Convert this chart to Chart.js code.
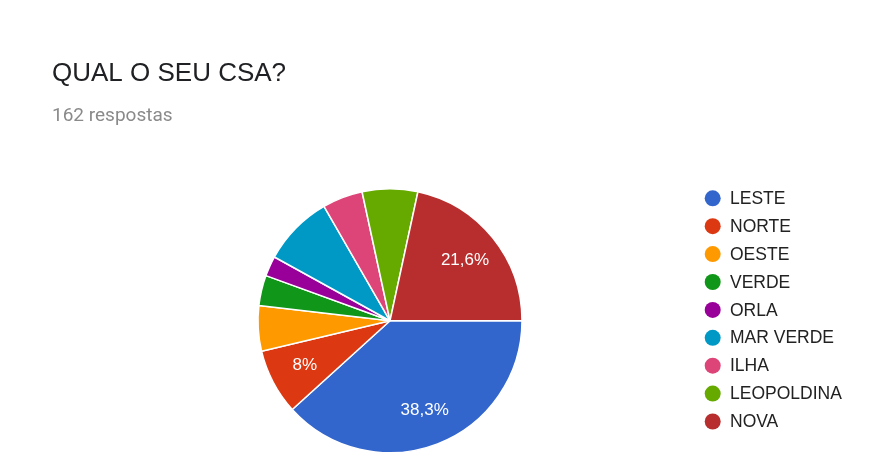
<!DOCTYPE html>
<html>
<head>
<meta charset="utf-8">
<script src="https://cdn.jsdelivr.net/npm/chart.js@4"></script>
<style>
  html, body { margin: 0; padding: 0; background: #fff; }
  #wrap { width: 888px; height: 463px; }
</style>
</head>
<body>
<div id="wrap"><canvas id="myChart" width="888" height="463"></canvas></div>
<script>
// Chart data
const categories = ['LESTE', 'NORTE', 'OESTE', 'VERDE', 'ORLA', 'MAR VERDE', 'ILHA', 'LEOPOLDINA', 'NOVA'];
const responses = [62, 13, 9, 6, 4, 14, 8, 11, 35];
const sliceColors = ['#3366cc', '#dc3912', '#ff9900', '#109618', '#990099', '#0099c6', '#dd4477', '#66aa00', '#b82e2e'];
const labeledSlices = ['LESTE', 'NORTE', 'NOVA'];
const chartTitle = 'QUAL O SEU CSA?';
const chartSubtitle = '162 respostas';

const total = responses.reduce((a, b) => a + b, 0);

function pctText(v) {
    const p = Number((v / total * 100).toFixed(1));
    return String(p).replace('.', ',') + '%';
}

// Percent labels inside the big slices
const sliceLabels = {
    id: 'sliceLabels',
    afterDatasetsDraw(chart) {
        const c = chart.ctx;
        const meta = chart.getDatasetMeta(0);
        c.save();
        c.font = '17px "Liberation Sans", Arial, sans-serif';
        c.fillStyle = '#ffffff';
        c.textAlign = 'center';
        c.textBaseline = 'middle';
        meta.data.forEach((arc, i) => {
            if (!labeledSlices.includes(categories[i])) return;
            const p = arc.getProps(['x', 'y', 'startAngle', 'endAngle', 'outerRadius'], true);
            const mid = (p.startAngle + p.endAngle) / 2;
            const r = p.outerRadius * 0.73;
            c.fillText(pctText(responses[i]), p.x + Math.cos(mid) * r, p.y + Math.sin(mid) * r);
        });
        c.restore();
    }
};

// Legend column on the right, Google Forms style
const sideLegend = {
    id: 'sideLegend',
    afterDraw(chart) {
        const c = chart.ctx;
        c.save();
        c.font = '17.5px "Liberation Sans", Arial, sans-serif';
        c.textBaseline = 'middle';
        c.textAlign = 'left';
        categories.forEach((name, i) => {
            const y = 198.3 + i * 27.9;
            c.beginPath();
            c.arc(712.7, y, 8, 0, Math.PI * 2);
            c.fillStyle = sliceColors[i];
            c.fill();
            c.fillStyle = '#222222';
            c.fillText(name, 730, y + 0.8);
        });
        c.restore();
    }
};

const ctx = document.getElementById('myChart').getContext('2d');

new Chart(ctx, {
    type: 'pie',
    data: {
        labels: categories,
        datasets: [{
            data: responses,
            backgroundColor: sliceColors,
            borderColor: '#ffffff',
            borderWidth: 1.5
        }]
    },
    options: {
        responsive: false,
        animation: false,
        rotation: 90,
        layout: {
            padding: { left: 52, right: 160, top: 0, bottom: 9.5 }
        },
        plugins: {
            legend: { display: false },
            tooltip: { enabled: false },
            title: {
                display: true,
                text: chartTitle,
                align: 'start',
                color: '#202124',
                font: { family: '"Liberation Sans", Arial, sans-serif', size: 26, weight: 'normal' },
                padding: { top: 58, bottom: 0 }
            },
            subtitle: {
                display: true,
                text: chartSubtitle,
                align: 'start',
                color: '#8a8a8a',
                font: { family: 'Roboto, sans-serif', size: 19, weight: 'normal' },
                padding: { top: 15.6, bottom: 60.4 }
            }
        }
    },
    plugins: [sliceLabels, sideLegend]
});
</script>
</body>
</html>
